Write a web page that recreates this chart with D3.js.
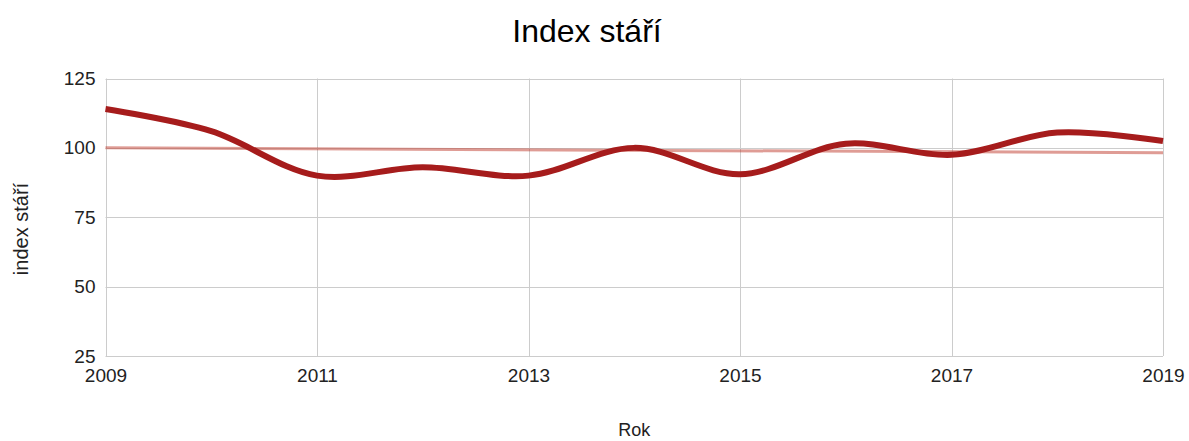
<!DOCTYPE html>
<html>
<head>
<meta charset="utf-8">
<script src="https://cdn.jsdelivr.net/npm/d3@7"></script>
<style>
  html, body { margin: 0; padding: 0; background: #fff; }
  svg { display: block; font-family: "Liberation Sans", Arial, sans-serif; }
</style>
</head>
<body>
<svg id="chart" width="1189" height="441"></svg>
<script>
const years = [2009, 2010, 2011, 2012, 2013, 2014, 2015, 2016, 2017, 2018, 2019];
const indexValues = [114, 106, 90, 93, 90, 100, 90.5, 101.5, 97.5, 105.5, 102.5];
const yTicks = [25, 50, 75, 100, 125];
const xTicks = [2009, 2011, 2013, 2015, 2017, 2019];
const titleText = "Index stáří";
const xTitle = "Rok";
const yTitle = "index stáří";

const W = 1189, H = 441;
const margin = { left: 105.5, right: 26, top: 78.5, bottom: 85 };
const svg = d3.select("#chart");

const x = d3.scaleLinear().domain([2009, 2019]).range([margin.left, W - margin.right]);
const y = d3.scaleLinear().domain([25, 125]).range([H - margin.bottom, margin.top]);

// grid
const grid = svg.append("g");
grid.selectAll("line.h").data(yTicks).join("line")
  .attr("x1", x(2009)).attr("x2", x(2019))
  .attr("y1", d => Math.round(y(d)) + 0.5).attr("y2", d => Math.round(y(d)) + 0.5)
  .attr("stroke", "#cccccc").attr("stroke-width", 1);
grid.selectAll("line.v").data(xTicks).join("line")
  .attr("y1", y(25)).attr("y2", y(125))
  .attr("x1", d => Math.round(x(d)) + 0.5).attr("x2", d => Math.round(x(d)) + 0.5)
  .attr("stroke", "#cccccc").attr("stroke-width", 1);

// axes labels via d3 axes
const yAxis = svg.append("g")
  .attr("transform", `translate(${margin.left},0)`)
  .call(d3.axisLeft(y).tickValues(yTicks).tickSize(0).tickPadding(10));
yAxis.select(".domain").remove();
yAxis.selectAll("text").attr("font-size", 19).attr("fill", "#222").attr("font-family", "Liberation Sans, Arial, sans-serif");

const xAxis = svg.append("g")
  .attr("transform", `translate(0,${H - margin.bottom})`)
  .call(d3.axisBottom(x).tickValues(xTicks).tickFormat(d3.format("d")).tickSize(0).tickPadding(13));
xAxis.select(".domain").remove();
xAxis.selectAll("text").attr("font-size", 19).attr("fill", "#222").attr("font-family", "Liberation Sans, Arial, sans-serif");

// trendline (least squares from the data)
const mx = d3.mean(years), my = d3.mean(indexValues);
const slope = d3.sum(years.map((v, i) => (v - mx) * (indexValues[i] - my))) / d3.sum(years.map(v => (v - mx) ** 2));
const trend = [2009, 2019].map(v => ({ x: v, y: my + slope * (v - mx) }));
svg.append("path")
  .datum(trend)
  .attr("d", d3.line().x(d => x(d.x)).y(d => y(d.y)))
  .attr("fill", "none")
  .attr("stroke", "#c0392b")
  .attr("stroke-opacity", 0.5)
  .attr("stroke-width", 3);

// main line
const data = years.map((v, i) => ({ x: v, y: indexValues[i] }));
svg.append("path")
  .datum(data)
  .attr("d", d3.line().x(d => x(d.x)).y(d => y(d.y)).curve(d3.curveCatmullRom.alpha(0.5)))
  .attr("fill", "none")
  .attr("stroke", "#a61c1c")
  .attr("stroke-width", 6)
  .attr("stroke-linejoin", "round");

// titles
svg.append("text")
  .attr("x", 587).attr("y", 42)
  .attr("text-anchor", "middle")
  .attr("font-size", 32)
  .attr("fill", "#000")
  .text(titleText);

svg.append("text")
  .attr("x", (x(2009) + x(2019)) / 2).attr("y", 436)
  .attr("text-anchor", "middle")
  .attr("font-size", 18)
  .attr("fill", "#222")
  .text(xTitle);

svg.append("text")
  .attr("transform", `translate(28,229) rotate(-90)`)
  .attr("text-anchor", "middle")
  .attr("font-size", 20)
  .attr("fill", "#222")
  .text(yTitle);
</script>
</body>
</html>
